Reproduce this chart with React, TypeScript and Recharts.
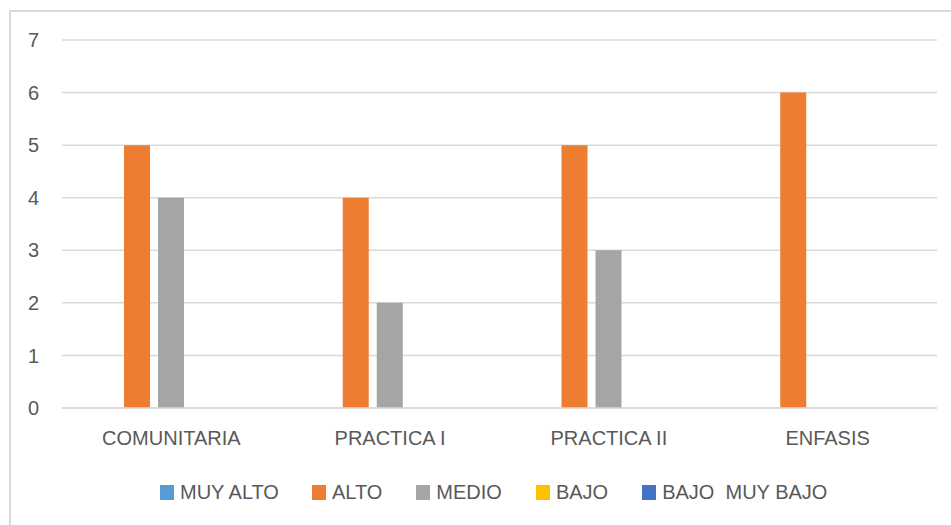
import React from "react";
import { BarChart, Bar, XAxis, YAxis, CartesianGrid, Legend } from "recharts";

const categories = ["COMUNITARIA", "PRACTICA I", "PRACTICA II", "ENFASIS"];
const seriesNames = ["MUY ALTO", "ALTO", "MEDIO", "BAJO", "BAJO  MUY BAJO"];
const seriesColors = ["#5B9BD5", "#ED7D31", "#A5A5A5", "#FFC000", "#4472C4"];
const muyAlto = [0, 0, 0, 0];
const alto = [5, 4, 5, 6];
const medio = [4, 2, 3, 0];
const bajo = [0, 0, 0, 0];
const muyBajo = [0, 0, 0, 0];
const yTicks = [0, 1, 2, 3, 4, 5, 6, 7];

const seriesValues = [muyAlto, alto, medio, bajo, muyBajo];
const keys = ["s0", "s1", "s2", "s3", "s4"];

const data = categories.map((c, i) => {
  const row: Record<string, any> = { name: c };
  keys.forEach((k, j) => {
    row[k] = seriesValues[j][i];
  });
  return row;
});

const FONT = "'Liberation Sans', Arial, sans-serif";
const TEXT = "#595959";
const legendGaps = [33, 34, 34, 34, 0];

const LegendContent = () => (
  <div style={{ display: "flex", alignItems: "center", paddingLeft: 160, fontFamily: FONT, fontSize: 20, color: TEXT, height: 20 }}>
    {seriesNames.map((n, i) => (
      <div key={n} style={{ display: "flex", alignItems: "center", marginRight: legendGaps[i] }}>
        <span style={{ display: "inline-block", width: 14, height: 15, background: seriesColors[i], marginRight: 6 }} />
        <span style={{ whiteSpace: "pre", lineHeight: "20px" }}>{n}</span>
      </div>
    ))}
  </div>
);

export default function App() {
  return (
    <div style={{ position: "absolute", left: 0, top: 0, width: 951, height: 525, background: "#fff", overflow: "hidden" }}>
      <div style={{ position: "absolute", left: 9, top: 10, width: 1000, height: 600, border: "2px solid #d9d9d9", boxSizing: "border-box" }} />
      <div style={{ position: "absolute", left: 0, top: 0 }}>
        <BarChart width={951} height={525} data={data} margin={{ top: 40, right: 14, left: 0, bottom: 87 }} barSize={26} barGap={8}>
          <CartesianGrid vertical={false} stroke="#d9d9d9" strokeWidth={1.5} />
          <XAxis
            dataKey="name"
            axisLine={{ stroke: "#d9d9d9", strokeWidth: 1.5 }}
            tickLine={false}
            tick={{ fill: TEXT, fontSize: 20, fontFamily: FONT }}
            tickMargin={17}
            height={30}
            interval={0}
          />
          <YAxis
            domain={[0, 7]}
            ticks={yTicks}
            axisLine={false}
            tickLine={false}
            width={62}
            tickMargin={17}
            tick={{ fill: TEXT, fontSize: 20, fontFamily: FONT }}
          />
          <Legend
            layout="horizontal"
            verticalAlign="middle"
            align="center"
            wrapperStyle={{ top: 482, left: 0, width: 951 }}
            content={LegendContent}
          />
          {keys.map((k, i) => (
            <Bar key={k} dataKey={k} name={seriesNames[i]} fill={seriesColors[i]} isAnimationActive={false} />
          ))}
        </BarChart>
      </div>
    </div>
  );
}
